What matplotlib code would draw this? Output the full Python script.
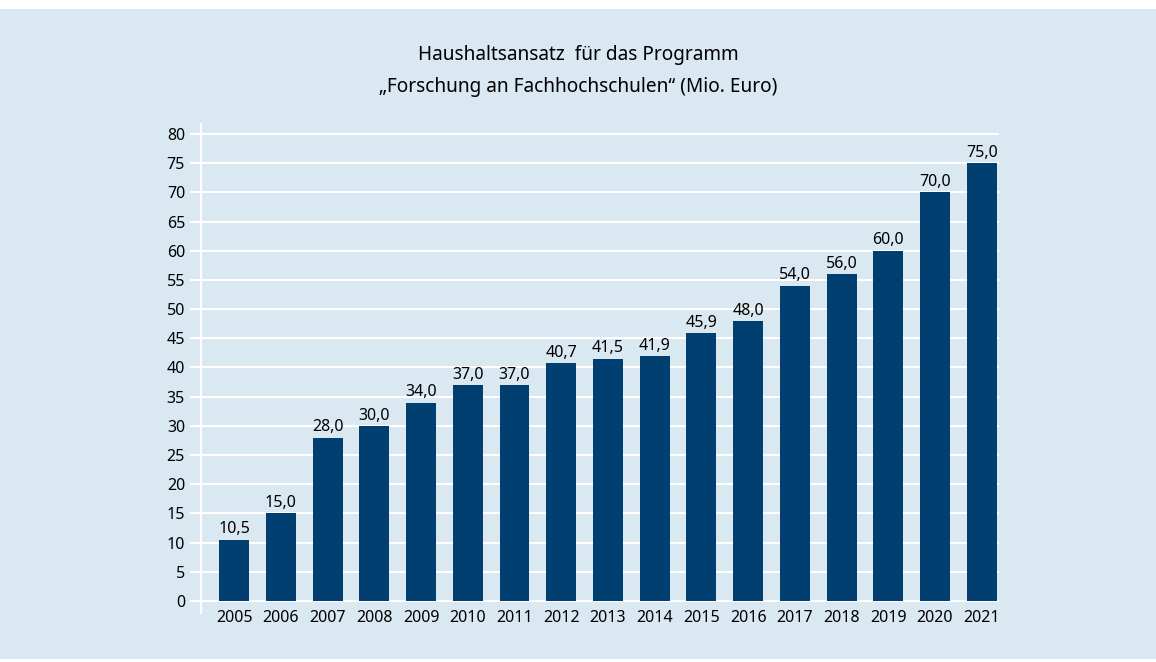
import matplotlib
matplotlib.use('Agg')
import matplotlib.pyplot as plt
from matplotlib.patches import Rectangle

plt.rcParams['font.family'] = ['Noto Sans', 'DejaVu Sans']

# Haushaltsansatz in Mio. Euro
years = ['2005', '2006', '2007', '2008', '2009', '2010', '2011', '2012', '2013',
         '2014', '2015', '2016', '2017', '2018', '2019', '2020', '2021']
budget = [10.5, 15.0, 28.0, 30.0, 34.0, 37.0, 37.0, 40.7, 41.5,
          41.9, 45.9, 48.0, 54.0, 56.0, 60.0, 70.0, 75.0]
yticks = list(range(0, 85, 5))

bg = '#dae8f2'
barColor = '#003f70'
textColor = '#000000'

W, H = 1156, 662
fig = plt.figure(figsize=(W / 100, H / 100), dpi=100, facecolor='white')

# light blue panel behind everything
fig.patches.append(Rectangle((0, 3 / H), 1, (659 - 9) / H, transform=fig.transFigure,
                             facecolor=bg, edgecolor='none', zorder=-5))

ax = fig.add_axes([201 / W, (H - 613) / H, (999 - 201) / W, (613 - 124) / H])
ax.set_facecolor('none')
ax.set_zorder(2)

x = list(range(len(years)))
ax.bar(x, budget, width=0.64, color=barColor, zorder=3)

for xi, v in zip(x, budget):
    ax.annotate(f'{v:.1f}'.replace('.', ','), (xi, v), xytext=(0, 4.5),
                textcoords='offset points', ha='center', va='baseline',
                fontsize=11.5, color=textColor)

ax.set_xlim(-0.71, 16.37)
ax.set_ylim(-2.05, 81.7)
ax.set_yticks(yticks)
ax.set_xticks(x)
ax.set_xticklabels(years)
ax.grid(axis='y', color='white', linewidth=1.5)
ax.set_axisbelow(True)

for s in ['top', 'right', 'bottom']:
    ax.spines[s].set_visible(False)
ax.spines['left'].set_color('white')
ax.spines['left'].set_linewidth(1.5)

ax.tick_params(axis='y', length=8, width=1.5, color='white', pad=3.5,
               labelsize=11.5, labelcolor=textColor)
ax.tick_params(axis='x', length=0, pad=-2, labelsize=11.5, labelcolor=textColor)

fig.text(0.5, (H - 55) / H, 'Haushaltsansatz  für das Programm', ha='center',
         va='center', fontsize=13.7, color=textColor)
fig.text(0.5, (H - 87) / H, '„Forschung an Fachhochschulen“ (Mio. Euro)', ha='center',
         va='center', fontsize=13.7, color=textColor)

fig.savefig('out.png', dpi=100, facecolor='white')
